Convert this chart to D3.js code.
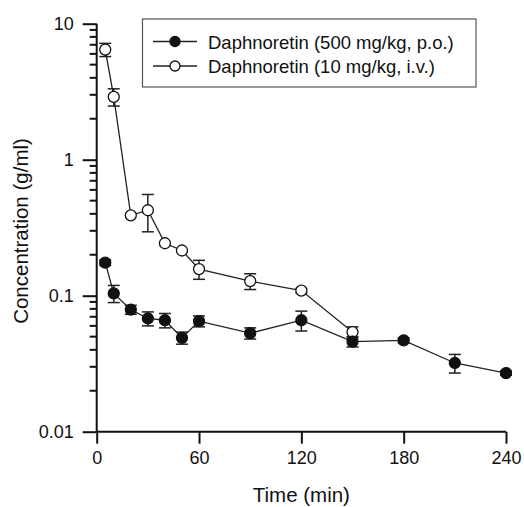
<!DOCTYPE html>
<html>
<head>
<meta charset="utf-8">
<script src="https://cdn.jsdelivr.net/npm/d3@7"></script>
<style>
  body { margin: 0; background: #fff; }
  svg text { font-family: "Liberation Sans", Arial, sans-serif; fill: #111; }
</style>
</head>
<body>
<div id="chart"></div>
<script>
// sampling times (min)
var timesPO = [5, 10, 20, 30, 40, 50, 60, 90, 120, 150, 180, 210, 240];
var meanPO  = [0.175, 0.104, 0.079, 0.068, 0.066, 0.049, 0.065, 0.053, 0.066, 0.046, 0.047, 0.032, 0.027];
var errPO   = [0.008, 0.015, 0.006, 0.008, 0.008, 0.005, 0.006, 0.005, 0.011, 0.004, 0.002, 0.005, 0.001];

var timesIV = [5, 10, 20, 30, 40, 50, 60, 90, 120, 150];
var meanIV  = [6.45, 2.9, 0.39, 0.425, 0.243, 0.215, 0.157, 0.128, 0.109, 0.054];
var errIV   = [0.72, 0.42, 0.0, 0.13, 0.0, 0.0, 0.025, 0.017, 0.004, 0.005];

var xTicks = [0, 60, 120, 180, 240];
var yTicks = [0.01, 0.1, 1, 10];
var seriesNames = ["Daphnoretin (500 mg/kg, p.o.)", "Daphnoretin (10 mg/kg, i.v.)"];

var width = 524, height = 507;
var plotLeft = 96.7, plotRight = 506, plotTop = 23.7, plotBottom = 431.7;

var svg = d3.select("#chart").append("svg")
    .attr("width", width)
    .attr("height", height);

var x = d3.scaleLinear().domain([0, 240]).range([plotLeft, plotRight]);
var y = d3.scaleLog().domain([0.01, 10]).range([plotBottom, plotTop]);

// x axis
var xAxis = svg.append("g")
    .attr("transform", "translate(0," + plotBottom + ")")
    .call(d3.axisBottom(x).tickValues(xTicks).tickSize(12).tickPadding(8));
xAxis.select(".domain").attr("d", "M" + plotLeft + ",0H" + plotRight);

// y axis: major ticks with labels, minor ticks 2..9
var minor = [];
[0.01, 0.1, 1].forEach(function(d) {
    for (var k = 2; k <= 9; k++) minor.push(d * k);
});
var yAxis = svg.append("g")
    .attr("transform", "translate(" + plotLeft + ",0)")
    .call(d3.axisLeft(y).tickValues(yTicks).tickFormat(function(d) { return String(d); })
        .tickSize(14).tickPadding(9));
yAxis.select(".domain").attr("d", "M0," + plotBottom + "V" + plotTop);
yAxis.selectAll(".minor")
    .data(minor)
    .enter()
    .append("line")
    .attr("class", "minor")
    .attr("x1", -7)
    .attr("x2", 0)
    .attr("y1", function(d) { return y(d); })
    .attr("y2", function(d) { return y(d); });

svg.selectAll(".domain, .tick line, .minor").attr("stroke", "#111").attr("stroke-width", 2);
svg.selectAll(".tick text").attr("font-size", 18).style("fill", "#111");

// axis titles
svg.append("text")
    .attr("x", (plotLeft + plotRight) / 2)
    .attr("y", 502)
    .attr("text-anchor", "middle")
    .attr("font-size", 20.5)
    .text("Time (min)");

svg.append("text")
    .attr("transform", "translate(28,231) rotate(-90)")
    .attr("text-anchor", "middle")
    .attr("font-size", 20.5)
    .text("Concentration (g/ml)");

// function to draw a series with error bars and markers
function drawSeries(times, means, errs, fill) {
    var pts = times.map(function(t, i) { return { t: t, v: means[i], e: errs[i] }; });
    var g = svg.append("g");

    g.append("path")
        .datum(pts)
        .attr("fill", "none")
        .attr("stroke", "#222")
        .attr("stroke-width", 1.3)
        .attr("d", d3.line()
            .x(function(d) { return x(d.t); })
            .y(function(d) { return y(d.v); }));

    var eb = g.selectAll(".err")
        .data(pts.filter(function(d) { return d.e > 0; }))
        .enter()
        .append("g")
        .attr("stroke", "#222")
        .attr("stroke-width", 1.5);
    eb.append("line")
        .attr("x1", function(d) { return x(d.t); })
        .attr("x2", function(d) { return x(d.t); })
        .attr("y1", function(d) { return y(d.v + d.e); })
        .attr("y2", function(d) { return y(d.v - d.e); });
    [1, -1].forEach(function(s) {
        eb.append("line")
            .attr("x1", function(d) { return x(d.t) - 6; })
            .attr("x2", function(d) { return x(d.t) + 6; })
            .attr("y1", function(d) { return y(d.v + s * d.e); })
            .attr("y2", function(d) { return y(d.v + s * d.e); });
    });

    g.selectAll("circle")
        .data(pts)
        .enter()
        .append("circle")
        .attr("cx", function(d) { return x(d.t); })
        .attr("cy", function(d) { return y(d.v); })
        .attr("r", 5.5)
        .attr("fill", fill)
        .attr("stroke", "#111")
        .attr("stroke-width", 1.3);
}

drawSeries(timesIV, meanIV, errIV, "#fff");
drawSeries(timesPO, meanPO, errPO, "#111");

// legend
var legend = svg.append("g");
legend.append("rect")
    .attr("x", 142.5)
    .attr("y", 19)
    .attr("width", 333.5)
    .attr("height", 68)
    .attr("fill", "#fff")
    .attr("stroke", "#555")
    .attr("stroke-width", 1.2);

var fills = ["#111", "#fff"];
seriesNames.forEach(function(name, i) {
    var ly = 41.5 + i * 24.5;
    legend.append("line")
        .attr("x1", 153).attr("x2", 197)
        .attr("y1", ly).attr("y2", ly)
        .attr("stroke", "#222").attr("stroke-width", 1.3);
    legend.append("circle")
        .attr("cx", 175).attr("cy", ly).attr("r", 5)
        .attr("fill", fills[i]).attr("stroke", "#111").attr("stroke-width", 1.3);
    legend.append("text")
        .attr("x", 208)
        .attr("y", ly + 7)
        .attr("font-size", 18.5)
        .text(name);
});
</script>
</body>
</html>
